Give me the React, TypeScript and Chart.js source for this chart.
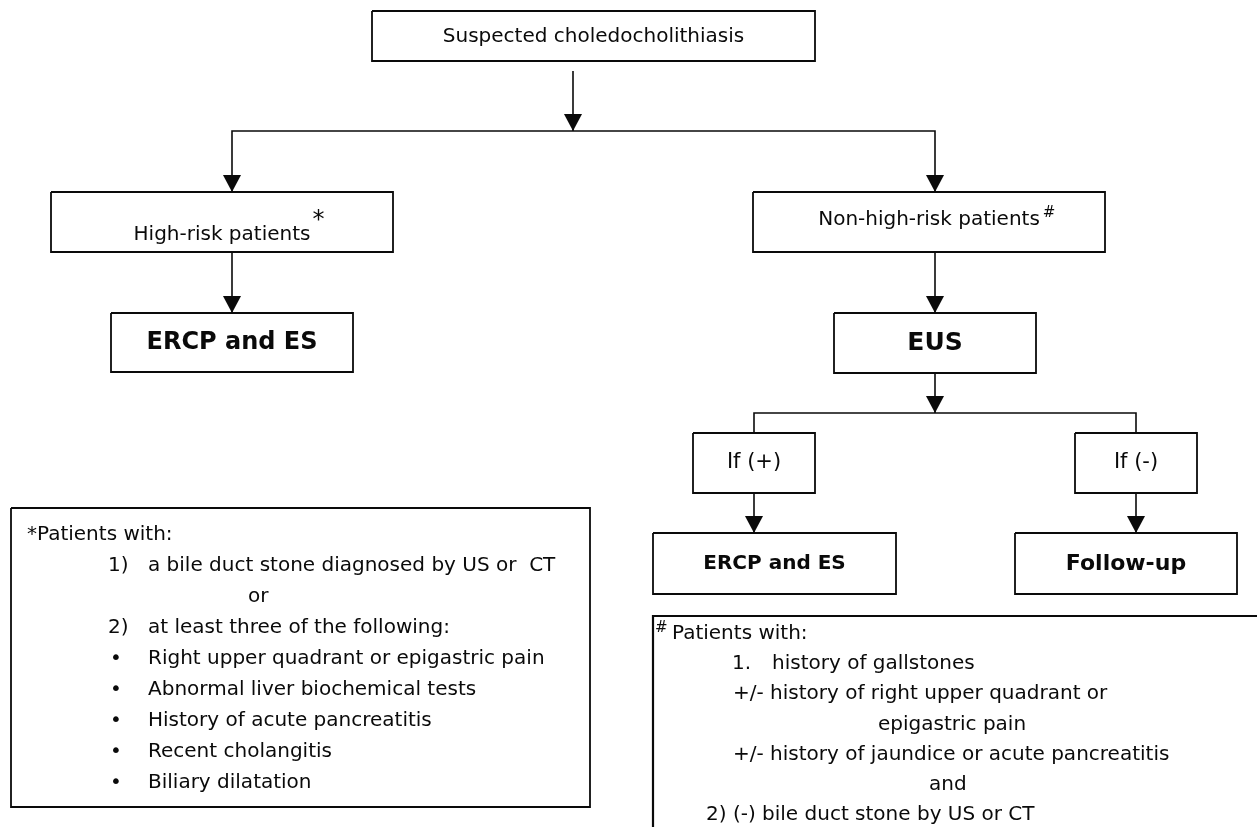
import React, { useEffect, useRef } from "react";
import { Chart, registerables } from "chart.js";

Chart.register(...registerables);

// ---------- DATA (content) ----------
const nodeIds = ["start", "high", "ercp1", "nonhigh", "eus", "ifpos", "ifneg", "ercp2", "follow"];
const nodeTexts = [
  "Suspected choledocholithiasis",
  "High-risk patients",
  "ERCP and ES",
  "Non-high-risk patients",
  "EUS",
  "If (+)",
  "If (-)",
  "ERCP and ES",
  "Follow-up",
];
const nodeMarks = ["", "*", "", "#", "", "", "", "", ""];
const nodeBold = [false, false, true, false, true, false, false, true, true];

// edges: from -> to ("" = trunk down to the split line)
const edgeFrom = ["start", "start", "start", "high", "nonhigh", "eus", "eus", "eus", "ifpos", "ifneg"];
const edgeTo = ["", "high", "nonhigh", "ercp1", "eus", "", "ifpos", "ifneg", "ercp2", "follow"];

const leftNoteLines = [
  "*Patients with:",
  "1)\ta bile duct stone diagnosed by US or  CT",
  "or",
  "2)\tat least three of the following:",
  "•\tRight upper quadrant or epigastric pain",
  "•\tAbnormal liver biochemical tests",
  "•\tHistory of acute pancreatitis",
  "•\tRecent cholangitis",
  "•\tBiliary dilatation",
];
const rightNoteLines = [
  "#|Patients with:",
  "1.\thistory of gallstones",
  "+/- history of right upper quadrant or",
  "epigastric pain",
  "+/- history of jaundice or acute pancreatitis",
  "and",
  "2) (-) bile duct stone by US or CT",
];

// ---------- LAYOUT (positions / sizes / styles, in axis units) ----------
const nodeLeft = [372, 51, 111, 753, 834, 693, 1075, 653, 1015];
const nodeTop = [11, 192, 313, 192, 313, 433, 433, 533, 533];
const nodeRight = [815, 393, 353, 1105, 1036, 815, 1197, 896, 1237];
const nodeBottom = [61, 252, 372, 252, 373, 493, 493, 594, 594];
const nodeFont = [20, 20, 24, 20, 25, 21, 21, 20, 22];
const nodeTextY = [37, 240, 343, 225, 343, 463, 463, 564, 564];
const nodeTextBase = ["middle", "alphabetic", "middle", "alphabetic", "middle", "middle", "middle", "middle", "middle"];
const markDX = [0, 2, 0, 3, 0, 0, 0, 0, 0];
const markDY = [0, -13, 0, -8, 0, 0, 0, 0, 0];
const markSize = [0, 24, 0, 15, 0, 0, 0, 0, 0];

const edgeX = [573, 232, 935, 232, 935, 935, 754, 1136, 754, 1136];
const splitY = [131, 131, 131, 0, 0, 413, 413, 413, 0, 0];
const edgeGap = [10, 0, 0, 0, 0, 0, 0, 0, 0, 0];
const edgeArrow = [true, true, true, true, true, true, false, false, true, true];

const leftNoteBox = [11, 508, 590, 807];
const leftNoteX = [27, 108, 248, 108, 110, 110, 110, 110, 110];
const leftNoteTabX = 148;
const leftNoteY0 = 535;
const leftNoteDY = 31;

const rightNoteBox = [653, 616, 1257, 827];
const rightNoteX = [655, 732, 733, 878, 733, 929, 706];
const rightNoteTabX = 772;
const rightNoteY0 = 634;
const rightNoteDY = 30.1;

const FONT = "'Comic Sans MS', 'DejaVu Sans', sans-serif";
const INK = "#0a0a0a";

function idx(id: string) {
  return nodeIds.indexOf(id);
}

function rectPts(i: number) {
  const l = nodeLeft[i], t = nodeTop[i], r = nodeRight[i], b = nodeBottom[i];
  return [
    { x: l, y: t },
    { x: r, y: t },
    { x: r, y: b },
    { x: l, y: b },
    { x: l, y: t },
  ];
}

function trunkX(from: string) {
  const j = edgeFrom.findIndex((v, m) => v === from && edgeTo[m] === "");
  return j >= 0 ? edgeX[j] : 0;
}

function edgePts(k: number) {
  const f = idx(edgeFrom[k]);
  const x = edgeX[k];
  if (edgeTo[k] === "") {
    return [
      { x, y: nodeBottom[f] + edgeGap[k] },
      { x, y: splitY[k] },
    ];
  }
  const t = idx(edgeTo[k]);
  if (splitY[k]) {
    return [
      { x: trunkX(edgeFrom[k]), y: splitY[k] },
      { x, y: splitY[k] },
      { x, y: nodeTop[t] },
    ];
  }
  return [
    { x, y: nodeBottom[f] },
    { x, y: nodeTop[t] },
  ];
}

const lineDs = (data: { x: number; y: number }[], w = 1.6) => ({
  type: "line" as const,
  data,
  showLine: true,
  borderColor: INK,
  borderWidth: w,
  pointRadius: 0,
  fill: false,
  tension: 0,
  clip: false as any,
});

const flowPlugin = {
  id: "flowText",
  afterDatasetsDraw(chart: any) {
    const ctx = chart.ctx as CanvasRenderingContext2D;
    const xs = chart.scales.x;
    const ys = chart.scales.y;
    const px = (v: number) => xs.getPixelForValue(v);
    const py = (v: number) => ys.getPixelForValue(v);
    ctx.save();
    ctx.fillStyle = INK;

    // arrowheads
    edgeFrom.forEach((_, k) => {
      if (!edgeArrow[k]) return;
      const pts = edgePts(k);
      const end = pts[pts.length - 1];
      const x = px(end.x), y = py(end.y);
      ctx.beginPath();
      ctx.moveTo(x - 9, y - 17);
      ctx.lineTo(x + 9, y - 17);
      ctx.lineTo(x, y);
      ctx.closePath();
      ctx.fill();
    });

    // node texts
    nodeTexts.forEach((txt, i) => {
      const cx = (nodeLeft[i] + nodeRight[i]) / 2;
      ctx.font = `${nodeBold[i] ? "bold " : ""}${nodeFont[i]}px ${FONT}`;
      ctx.textAlign = "center";
      ctx.textBaseline = nodeTextBase[i] as CanvasTextBaseline;
      ctx.fillText(txt, px(cx), py(nodeTextY[i]));
      if (nodeMarks[i]) {
        const w = ctx.measureText(txt).width;
        ctx.font = `${markSize[i]}px ${FONT}`;
        ctx.textAlign = "left";
        ctx.textBaseline = "alphabetic";
        ctx.fillText(nodeMarks[i], px(cx) + w / 2 + markDX[i], py(nodeTextY[i] + markDY[i]));
      }
    });

    // footnotes
    ctx.font = `20px ${FONT}`;
    ctx.textBaseline = "middle";
    ctx.textAlign = "left";
    leftNoteLines.forEach((line, i) => {
      const y = py(leftNoteY0 + i * leftNoteDY);
      const parts = line.split("\t");
      if (parts.length === 2) {
        ctx.fillText(parts[0], px(leftNoteX[i]), y);
        ctx.fillText(parts[1], px(leftNoteTabX), y);
      } else {
        ctx.fillText(line, px(leftNoteX[i]), y);
      }
    });
    rightNoteLines.forEach((line, i) => {
      const y = py(rightNoteY0 + i * rightNoteDY);
      if (line.includes("|")) {
        const [m, rest] = line.split("|");
        ctx.font = `15px ${FONT}`;
        ctx.fillText(m, px(rightNoteX[i]), y - 6);
        ctx.font = `20px ${FONT}`;
        ctx.fillText(rest, px(rightNoteX[i] + 17), y);
        return;
      }
      const parts = line.split("\t");
      if (parts.length === 2) {
        ctx.fillText(parts[0], px(rightNoteX[i]), y);
        ctx.fillText(parts[1], px(rightNoteTabX), y);
      } else {
        ctx.fillText(line, px(rightNoteX[i]), y);
      }
    });
    ctx.restore();
  },
};

export default function App() {
  const ref = useRef<HTMLCanvasElement | null>(null);
  useEffect(() => {
    if (!ref.current) return;
    const datasets: any[] = [];
    nodeIds.forEach((_, i) => datasets.push(lineDs(rectPts(i), 1.8)));
    edgeFrom.forEach((_, k) => datasets.push(lineDs(edgePts(k), 1.6)));
    const [ll, lt, lr, lb] = leftNoteBox;
    datasets.push(
      lineDs(
        [
          { x: ll, y: lt },
          { x: lr, y: lt },
          { x: lr, y: lb },
          { x: ll, y: lb },
          { x: ll, y: lt },
        ],
        1.8
      )
    );
    const [rl, rt, rr, rb] = rightNoteBox;
    datasets.push(
      lineDs(
        [
          { x: rr, y: rt },
          { x: rl, y: rt },
          { x: rl, y: rb },
        ],
        2.2
      )
    );
    const chart = new Chart(ref.current, {
      type: "scatter",
      data: { datasets },
      options: {
        animation: false,
        responsive: true,
        maintainAspectRatio: false,
        layout: { padding: 0 },
        events: [],
        plugins: { legend: { display: false }, tooltip: { enabled: false } },
        scales: {
          x: { type: "linear", min: 0, max: 1257, display: false },
          y: { type: "linear", min: 0, max: 827, reverse: true, display: false },
        },
      },
      plugins: [flowPlugin],
    });
    return () => chart.destroy();
  }, []);
  return (
    <div style={{ position: "fixed", left: 0, top: 0, width: 1257, height: 827, background: "#fff" }}>
      <canvas ref={ref} />
    </div>
  );
}
